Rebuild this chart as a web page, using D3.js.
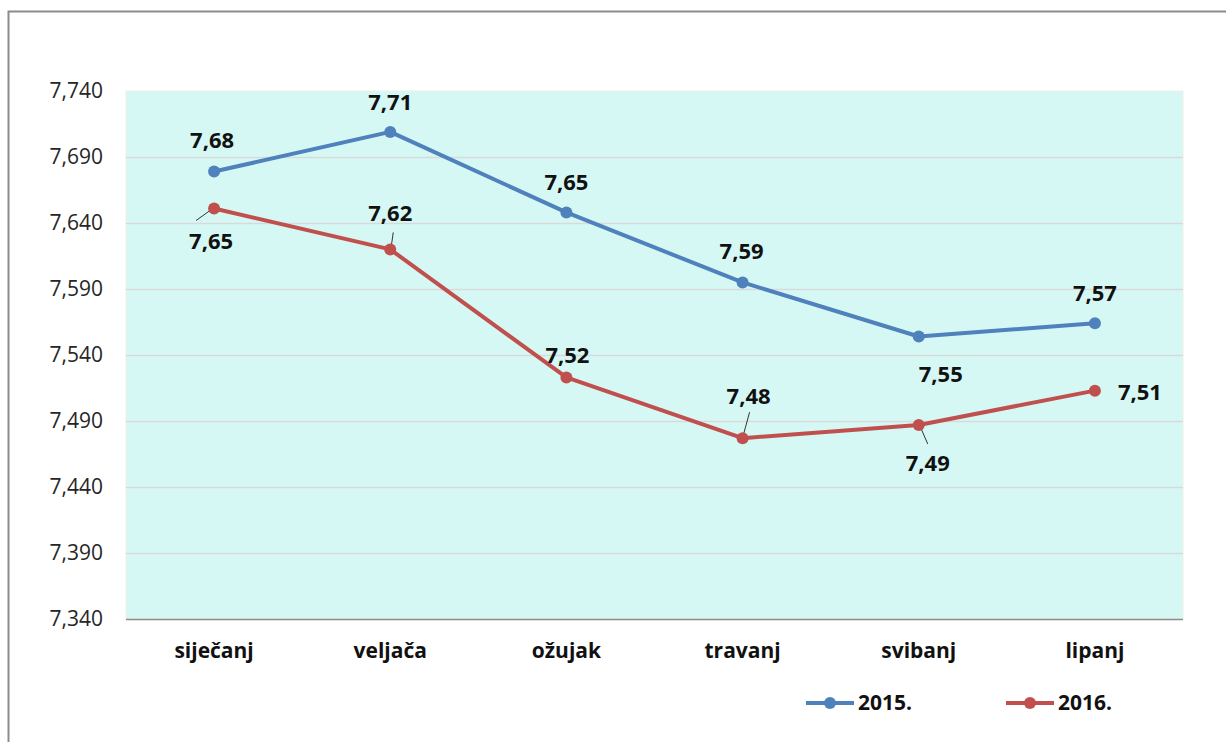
<!DOCTYPE html>
<meta charset="UTF-8">
<style>
  body { margin: 0; background: #fff; }
  text { font-family: "Open Sans", "DejaVu Sans", sans-serif; }
</style>
<svg width="1226" height="742"></svg>
<script src="https://d3js.org/d3.v7.min.js"></script>
<script>

var months = ["siječanj", "veljača", "ožujak", "travanj", "svibanj", "lipanj"];
var yTicks = [7.34, 7.39, 7.44, 7.49, 7.54, 7.59, 7.64, 7.69, 7.74];
var values2015 = [7.679, 7.709, 7.648, 7.595, 7.554, 7.564];
var values2016 = [7.651, 7.620, 7.523, 7.477, 7.487, 7.513];
var labels2015 = ["7,68", "7,71", "7,65", "7,59", "7,55", "7,57"];
var labels2016 = ["7,65", "7,62", "7,52", "7,48", "7,49", "7,51"];
var seriesNames = ["2015.", "2016."];
var colors = ["#4f81bd", "#c0504d"];

// label offsets relative to point: [dx, dy], optional leader [x1, y1, x2, y2] relative to point
var off2015 = [[-2, -31], [0, -30], [0, -30], [-1, -31], [22, 38], [0, -30]];
var off2016 = [[-3, 33, [-18, 12, -4, 2]], [0, -36, [3, -17, 1, -3]], [1, -22],
               [6, -42, [7, -26, 1, -4]], [9, 38, [2, 3, 9, 19]], [45, 2]];

var svg = d3.select("svg"),
    width = +svg.attr("width"),
    height = +svg.attr("height");

var plot = {left: 126, right: 1183, top: 91, bottom: 619};

// outer frame (cropped on right/bottom)
svg.append("path")
    .attr("d", "M8.5," + height + "V11.5H" + width)
    .attr("fill", "none").attr("stroke", "#8c8c8c").attr("stroke-width", 2);

var x = d3.scaleBand().domain(months).range([plot.left, plot.right]);
var y = d3.scaleLinear().domain([7.34, 7.74]).range([plot.bottom, plot.top]);

svg.append("rect")
    .attr("x", plot.left).attr("y", plot.top)
    .attr("width", plot.right - plot.left).attr("height", plot.bottom - plot.top)
    .attr("fill", "#d6f8f4").attr("stroke", "#eef0e4").attr("stroke-width", 1);

// gridlines
svg.append("g").selectAll("line").data(yTicks.slice(1, -1)).join("line")
    .attr("x1", plot.left).attr("x2", plot.right)
    .attr("y1", d => Math.round(y(d)) + 0.5).attr("y2", d => Math.round(y(d)) + 0.5)
    .attr("stroke", "#d9d9d9").attr("stroke-width", 1.5);

// x axis line
svg.append("line")
    .attr("x1", plot.left).attr("x2", plot.right)
    .attr("y1", plot.bottom + 0.5).attr("y2", plot.bottom + 0.5)
    .attr("stroke", "#8c8c8c").attr("stroke-width", 1.5);

// y tick labels
var fmt = d => d3.format(".3f")(d).replace(".", ",");
svg.append("g").selectAll("text").data(yTicks).join("text")
    .attr("x", 103).attr("y", d => y(d)).attr("dy", "0.35em")
    .attr("text-anchor", "end").attr("font-size", 21).attr("fill", "#262626")
    .text(fmt);

// category labels
svg.append("g").selectAll("text").data(months).join("text")
    .attr("x", d => x(d) + x.bandwidth() / 2).attr("y", 651).attr("dy", "0.35em")
    .attr("text-anchor", "middle").attr("font-size", 21).attr("font-weight", "bold")
    .attr("fill", "#111").text(d => d);

var line = d3.line().x((d, i) => x(months[i]) + x.bandwidth() / 2).y(d => y(d));

[[values2015, labels2015, off2015], [values2016, labels2016, off2016]].forEach(function(s, k) {
  var vals = s[0], labs = s[1], offs = s[2];
  svg.append("path").datum(vals)
      .attr("d", line).attr("fill", "none")
      .attr("stroke", colors[k]).attr("stroke-width", 4).attr("stroke-linejoin", "round");

  var g = svg.append("g");
  vals.forEach(function(v, i) {
    var px = x(months[i]) + x.bandwidth() / 2, py = y(v), l = offs[i][2];
    if (l) {
      g.append("line")
          .attr("x1", px + l[0]).attr("y1", py + l[1])
          .attr("x2", px + l[2]).attr("y2", py + l[3])
          .attr("stroke", "#333").attr("stroke-width", 1);
    }
  });
  g.selectAll("circle").data(vals).join("circle")
      .attr("cx", (d, i) => x(months[i]) + x.bandwidth() / 2).attr("cy", d => y(d))
      .attr("r", 6).attr("fill", colors[k]);
  g.selectAll("text").data(vals).join("text")
      .attr("x", (d, i) => x(months[i]) + x.bandwidth() / 2 + offs[i][0])
      .attr("y", (d, i) => y(d) + offs[i][1]).attr("dy", "0.35em")
      .attr("text-anchor", "middle").attr("font-size", 22).attr("font-weight", "bold")
      .attr("fill", "#111").text((d, i) => labs[i]);
});

// legend
var legendX = [806, 1006];
seriesNames.forEach(function(n, k) {
  var lg = svg.append("g").attr("transform", "translate(" + legendX[k] + ",703)");
  lg.append("line").attr("x1", 0).attr("x2", 48).attr("stroke", colors[k]).attr("stroke-width", 4);
  lg.append("circle").attr("cx", 24).attr("r", 6).attr("fill", colors[k]);
  lg.append("text").attr("x", 52).attr("dy", "0.35em").attr("font-size", 21)
      .attr("font-weight", "bold").attr("fill", "#111").text(n);
});
</script>
